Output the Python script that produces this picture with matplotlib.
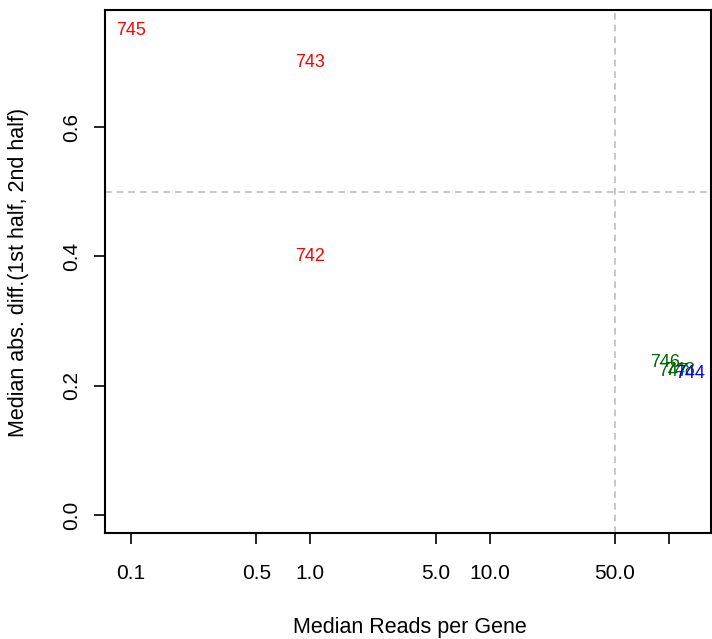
import numpy as np
import matplotlib
matplotlib.use('Agg')
from matplotlib import pyplot as plt

plt.rcParams['font.family'] = ['Liberation Sans', 'DejaVu Sans']

# sample labels, median reads per gene, median abs diff, colour
ids = ['745', '743', '742', '746', '747', '748', '744']
reads = [0.1, 1.0, 1.0, 95.0, 106.0, 116.0, 132.0]
diffs = [0.75, 0.70, 0.40, 0.236, 0.222, 0.224, 0.219]
cols = ['red', 'red', 'red', 'darkgreen', 'darkgreen', 'darkgreen', 'blue']

xticks = [0.1, 0.5, 1.0, 5.0, 10.0, 50.0, 100.0]
xticklabels = ['0.1', '0.5', '1.0', '5.0', '10.0', '50.0', '']
yticks = [0.0, 0.2, 0.4, 0.6]

fs_txt = 13
fs_tick = 15
fs_lab = 15.5

fig = plt.figure(figsize=(7.12, 6.39), dpi=100)
ax = fig.add_axes([0.1475, 0.1659, 0.8511, 0.8185])

ax.set_xscale('log')
ax.set_xlim(0.0716, 171.7)
ax.set_ylim(-0.028, 0.781)

ax.axvline(50, color='#bebebe', lw=1.2, ls=(0, (4, 3)), zorder=1)
ax.axhline(0.5, color='#bebebe', lw=1.2, ls=(0, (4, 3)), zorder=1)

for lab, x, y, c in zip(ids, reads, diffs, cols):
    ax.text(x, y, lab, color=c, fontsize=fs_txt, ha='center', va='center')

ax.set_xticks(xticks)
ax.set_xticklabels(xticklabels)
ax.minorticks_off()
ax.set_yticks(yticks)
ax.set_yticklabels(['0.0', '0.2', '0.4', '0.6'], rotation=90, va='center')

ax.tick_params(axis='x', length=8, width=1.2, pad=14, labelsize=fs_tick)
ax.tick_params(axis='y', length=8, width=1.2, pad=9, labelsize=fs_tick)
for s in ax.spines.values():
    s.set_linewidth(1.5)

fig.text(410 / 712, 1 - 627 / 639, 'Median Reads per Gene',
         ha='center', va='center', fontsize=fs_lab)
fig.text(19 / 712, 1 - 272 / 639, 'Median abs. diff.(1st half, 2nd half)',
         ha='center', va='center', rotation=90, fontsize=fs_lab)

plt.savefig('out.png', dpi=100)
plt.close()
